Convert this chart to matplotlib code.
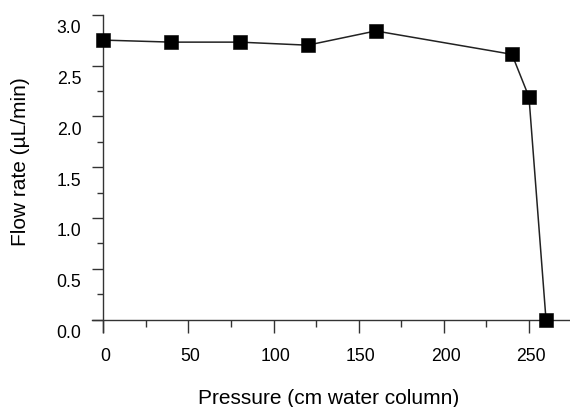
# flow_rate.py - flow rate vs pressure
import matplotlib.pyplot as plt
from matplotlib.ticker import MultipleLocator
from matplotlib.transforms import ScaledTranslation

plt.rcParams['font.family'] = ['Liberation Sans', 'DejaVu Sans']

# data
pressure = [0, 40, 80, 120, 160, 240, 250, 260]
flow_rate = [2.75, 2.73, 2.73, 2.70, 2.84, 2.61, 2.19, 0.0]

fig = plt.figure(figsize=(5.7, 4.07), dpi=100)
ax = fig.add_axes([92 / 570, 75 / 407, 478 / 570, 317.3 / 407])

ax.plot(pressure, flow_rate, color='#222222', lw=1.1, marker='s', ms=10.2,
        mfc='black', mec='black', mew=0.4, clip_on=False, zorder=3)

ax.set_xlim(-6.64, 274.1)
ax.set_ylim(-0.123, 3.0)

# axis lines cross at the origin
ax.spines['left'].set_position(('data', 0))
ax.spines['bottom'].set_position(('data', 0))
ax.spines['top'].set_visible(False)
ax.spines['right'].set_visible(False)
for s in ['left', 'bottom']:
    ax.spines[s].set_color('#333333')
    ax.spines[s].set_linewidth(1.0)

ax.xaxis.set_major_locator(MultipleLocator(50))
ax.xaxis.set_minor_locator(MultipleLocator(25))
ax.set_xticks([0, 50, 100, 150, 200, 250])
ax.set_yticks([0, 0.5, 1.0, 1.5, 2.0, 2.5, 3.0])
ax.set_yticklabels(['0.0', '0.5', '1.0', '1.5', '2.0', '2.5', '3.0'])
ax.yaxis.set_minor_locator(MultipleLocator(0.25))

ax.tick_params(axis='x', which='major', direction='out', length=9, width=1,
               color='#333333', pad=11.3, labelsize=12.7)
ax.tick_params(axis='x', which='minor', direction='out', length=4.7, width=1,
               color='#333333')
ax.tick_params(axis='y', which='major', direction='out', length=7.8, width=1,
               color='#333333', pad=8, labelsize=12.7)
ax.tick_params(axis='y', which='minor', direction='out', length=4, width=1,
               color='#333333')

# y labels sit a bit below their ticks, x labels a touch to the right
for lab in ax.get_yticklabels():
    lab.set_transform(lab.get_transform() + ScaledTranslation(0, -0.12, fig.dpi_scale_trans))
for lab in ax.get_xticklabels():
    lab.set_transform(lab.get_transform() + ScaledTranslation(0.02, 0, fig.dpi_scale_trans))

ax.set_xlabel('Pressure (cm water column)', fontsize=15)
ax.set_ylabel('Flow rate (\u00b5L/min)', fontsize=15)
ax.xaxis.set_label_coords(0.494, -0.18)
ax.yaxis.set_label_coords(-0.13, 0.536)

plt.savefig('out.png', dpi=100)
